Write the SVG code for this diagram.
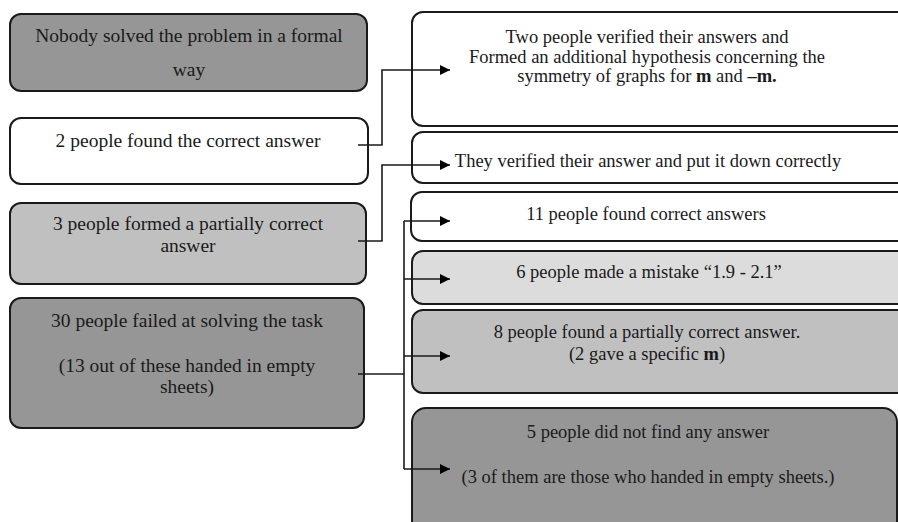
<svg xmlns="http://www.w3.org/2000/svg" width="898" height="522" viewBox="0 0 898 522" font-family="'Liberation Serif', Tinos, 'Times New Roman', 'DejaVu Serif', serif">
<style>
.box{stroke:#1a1a1a;stroke-width:2}
.white{fill:#ffffff}
.dark{fill:#969696}
.mid{fill:#c0c0c0}
.light{fill:#dcdcdc}
text{font-size:18.5px;fill:#1a1a1a;text-anchor:middle}
.l text{font-size:19.5px}
.b{font-weight:bold}
.conn{fill:none;stroke:#1a1a1a;stroke-width:1.6}
</style>
<defs>
<marker id="arr" viewBox="0 0 10 10" refX="10" refY="5" markerWidth="10" markerHeight="10" markerUnits="userSpaceOnUse" orient="auto">
<path d="M0,0 L10,5 L0,10 Z" fill="#000"/>
</marker>
</defs>
<rect width="898" height="522" fill="#ffffff"/>

<g id="n-formal" class="l">
<rect class="box dark" x="10" y="14" width="357" height="77" rx="11"/>
<text x="189" y="42">Nobody solved the problem in a formal</text>
<text x="189" y="76">way</text>
</g>
<g id="n-correct" class="l">
<rect class="box white" x="10" y="118" width="358" height="66" rx="11"/>
<text x="188" y="147">2 people found the correct answer</text>
</g>
<g id="n-partial" class="l">
<rect class="box mid" x="10" y="203" width="356" height="81" rx="11"/>
<text x="188" y="230">3 people formed a partially correct</text>
<text x="188" y="252">answer</text>
</g>
<g id="n-failed" class="l">
<rect class="box dark" x="10" y="298" width="354" height="130" rx="11"/>
<text x="187" y="327">30 people failed at solving the task</text>
<text x="187" y="372">(13 out of these handed in empty</text>
<text x="187" y="393">sheets)</text>
</g>

<g id="r-verified2">
<rect class="box white" x="412" y="12" width="500" height="114" rx="11"/>
<text x="647" y="43">Two people verified their answers and</text>
<text x="647" y="63">Formed an additional hypothesis concerning the</text>
<text x="647" y="82">symmetry of graphs for <tspan class="b">m</tspan> and <tspan class="b">–m.</tspan></text>
</g>
<g id="r-verified">
<rect class="box white" x="412" y="132" width="500" height="51" rx="11"/>
<text x="648" y="167">They verified their answer and put it down correctly</text>
</g>
<g id="r-11">
<rect class="box white" x="411" y="192" width="500" height="49" rx="11"/>
<text x="646" y="220">11 people found correct answers</text>
</g>
<g id="r-6">
<rect class="box light" x="412" y="251" width="500" height="53" rx="11"/>
<text x="649" y="278">6 people made a mistake “1.9 - 2.1”</text>
</g>
<g id="r-8">
<rect class="box mid" x="412" y="310" width="500" height="83" rx="11"/>
<text x="647" y="338">8 people found a partially correct answer.</text>
<text x="647" y="360">(2 gave a specific <tspan class="b">m</tspan>)</text>
</g>
<g id="r-5">
<rect class="box dark" x="412" y="408" width="485" height="130" rx="14"/>
<text x="648" y="438">5 people did not find any answer</text>
<text x="648" y="483">(3 of them are those who handed in empty sheets.)</text>
</g>

<g id="connectors">
<path class="conn" d="M358,145 H382 V70 H450" marker-end="url(#arr)"/>
<path class="conn" d="M358,241 H382 V165 H450" marker-end="url(#arr)"/>
<path class="conn" d="M358,374 H404"/>
<path class="conn" d="M404,221 V469"/>
<path class="conn" d="M404,221 H450" marker-end="url(#arr)"/>
<path class="conn" d="M404,279 H450" marker-end="url(#arr)"/>
<path class="conn" d="M404,356 H450" marker-end="url(#arr)"/>
<path class="conn" d="M404,469 H450" marker-end="url(#arr)"/>
</g>
</svg>
